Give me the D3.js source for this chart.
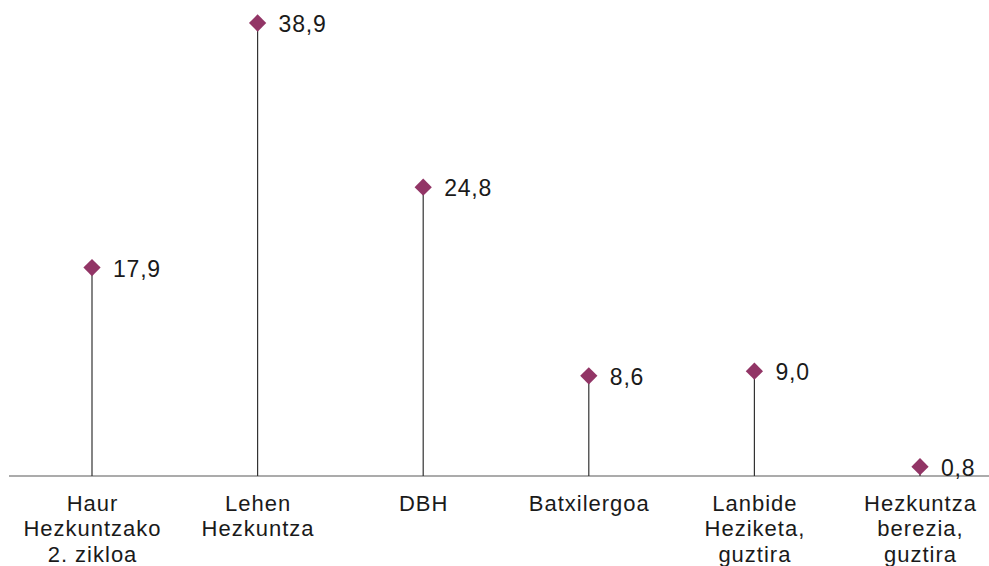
<!DOCTYPE html>
<html><head><meta charset="utf-8">
<script src="https://cdn.jsdelivr.net/npm/d3@7"></script>
<style>body{margin:0;background:#fff}svg{display:block}</style>
</head><body>
<script>
const categories = [["Haur","Hezkuntzako","2. zikloa"],["Lehen","Hezkuntza"],["DBH"],["Batxilergoa"],["Lanbide","Heziketa,","guztira"],["Hezkuntza","berezia,","guztira"]];
const values = [17.9, 38.9, 24.8, 8.6, 9.0, 0.8];
const valueLabels = ["17,9","38,9","24,8","8,6","9,0","0,8"];

const W = 989, H = 566;
const svg = d3.select("body").append("svg").attr("width", W).attr("height", H);
const x = d3.scaleBand().domain(d3.range(values.length)).range([9.2, 1002.8]);
const y = d3.scaleLinear().domain([0, 38.9]).range([476, 23]);
const color = "#923566";
const font = "'Liberation Sans', Arial, sans-serif";
const cx = i => x(i) + x.bandwidth()/2;

// axis line
svg.append("line").attr("x1", 9).attr("x2", W).attr("y1", y(0)).attr("y2", y(0))
  .attr("stroke", "#595959").attr("stroke-width", 1.2);

const g = svg.selectAll("g.pt").data(values).join("g").attr("class","pt");
g.append("line")
  .attr("x1", (d,i) => cx(i)).attr("x2", (d,i) => cx(i))
  .attr("y1", y(0)).attr("y2", d => y(d))
  .attr("stroke", "#333333").attr("stroke-width", 1.2);
g.append("path")
  .attr("d", d3.symbol(d3.symbolDiamond2, 190)())
  .attr("transform", (d,i) => `translate(${cx(i)},${y(d)})`)
  .attr("fill", color);
g.append("text")
  .attr("x", (d,i) => cx(i) + 21)
  .attr("y", d => y(d) + 9)
  .attr("font-family", font).attr("font-size", 23).attr("letter-spacing", 0.8)
  .attr("fill", "#1a1a1a")
  .text((d,i) => valueLabels[i]);

const cl = svg.selectAll("text.cat").data(categories).join("text").attr("class","cat")
  .attr("font-family", font).attr("font-size", 22).attr("letter-spacing", 1)
  .attr("fill", "#1a1a1a")
  .attr("text-anchor", "middle");
cl.selectAll("tspan").data((d,i) => d.map(t => ({t, i}))).join("tspan")
  .attr("x", d => cx(d.i) + 0.5)
  .attr("y", (d,j) => 510.5 + j*25.5)
  .text(d => d.t);
</script>
</body></html>
